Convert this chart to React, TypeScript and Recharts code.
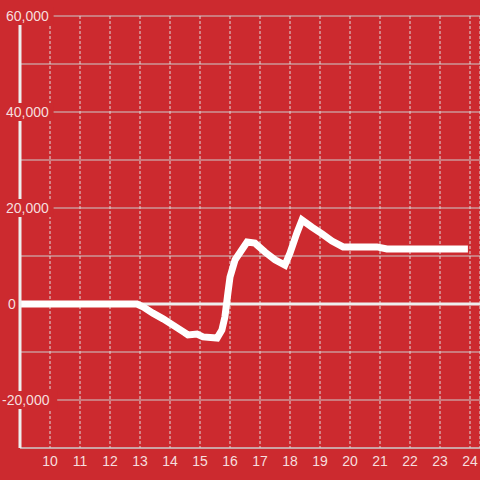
import React from "react";
import { LineChart, Line, XAxis, YAxis, CartesianGrid, ReferenceLine } from "recharts";

const BG = "#cc2a2f";
const LABEL = "#f6dede";

const hours = [9, 12.9, 13.1, 13.43, 13.77, 14.1, 14.5, 14.6, 14.9, 15.1, 15.57, 15.73, 15.83, 15.93, 16, 16.17, 16.57, 16.83, 17.17, 17.5, 17.83, 18, 18.23, 18.4, 18.73, 19.07, 19.4, 19.77, 20.9, 21.23, 23.93];
const values = [0, 0, -600, -1900, -3100, -4400, -6000, -6450, -6250, -6850, -7100, -5400, -2700, 2300, 5600, 9200, 12900, 12700, 10800, 9200, 8100, 10600, 14800, 17500, 16000, 14600, 13100, 11900, 11900, 11450, 11450];

const xTicks = [10, 11, 12, 13, 14, 15, 16, 17, 18, 19, 20, 21, 22, 23, 24];
const yTicks = [-30000, -20000, -10000, 0, 10000, 20000, 30000, 40000, 50000, 60000];
const yLabelled = [-20000, 0, 20000, 40000, 60000];

const data = hours.map((h, i) => ({ t: h, v: values[i] }));

const fmt = (n: number) => n.toLocaleString("en-US");

const YTick = (props: any) => {
  const { y, payload } = props;
  const val = payload.value as number;
  if (!yLabelled.includes(val)) return null;
  const text = fmt(val);
  const x0 = val < 0 ? 2 : val === 0 ? 8 : 6;
  const w = text.length * 7.6 + 3;
  return (
    <g>
      <rect x={x0 - 1} y={y - 9} width={w} height={18} fill={BG} />
      <text x={x0} y={y} dy="0.36em" textAnchor="start" fill={LABEL} fontSize={14} fontFamily="'Liberation Sans', Arial, sans-serif">
        {text}
      </text>
    </g>
  );
};

export default function App() {
  return (
    <div style={{ position: "absolute", left: 0, top: 0, width: 480, height: 480, background: BG }}>
      <LineChart width={480} height={480} data={data} margin={{ top: 16, right: 0, bottom: 0, left: 0 }}>
        <CartesianGrid vertical={false} stroke="#cccccc" strokeWidth={1} />
        <CartesianGrid horizontal={false} stroke="#dddddd" strokeDasharray="3 2" strokeWidth={1} />
        <XAxis
          dataKey="t"
          type="number"
          domain={[9, 24.3333]}
          ticks={xTicks}
          allowDataOverflow
          height={32}
          tickLine={false}
          axisLine={{ stroke: "#cccccc", strokeWidth: 1 }}
          tick={{ fill: LABEL, fontSize: 14, fontFamily: "'Liberation Sans', Arial, sans-serif" }}
          interval={0}
        />
        <YAxis
          type="number"
          domain={[-30000, 60000]}
          ticks={yTicks}
          width={20}
          tickLine={false}
          axisLine={{ stroke: "#eeeeee", strokeWidth: 3 }}
          tick={<YTick />}
          interval={0}
        />
        <ReferenceLine y={0} stroke="#eeeeee" strokeWidth={3} />
        <Line type="linear" dataKey="v" stroke="#ffffff" strokeWidth={7} dot={false} isAnimationActive={false} />
      </LineChart>
    </div>
  );
}
